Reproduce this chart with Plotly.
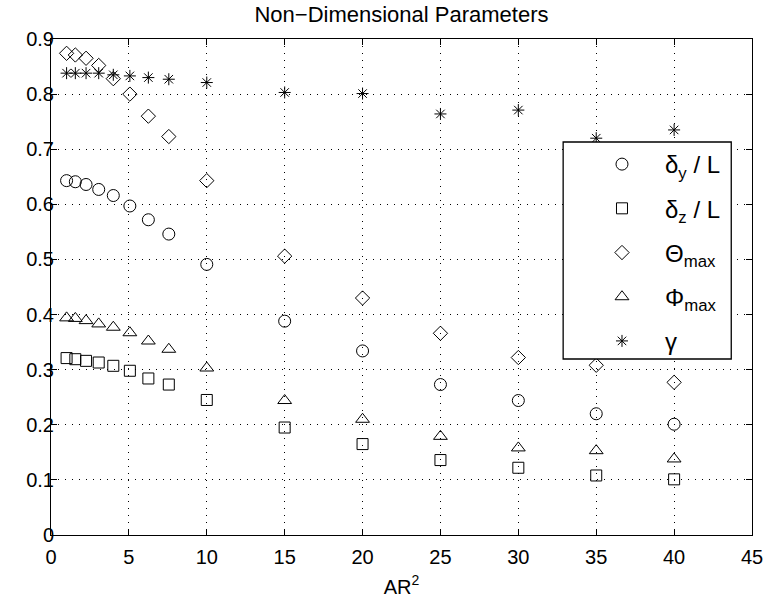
import plotly.graph_objects as go

# AR^2 sample points
ar2 = [1, 1.5625, 2.25, 3.0625, 4, 5.0625, 6.25, 7.5625, 10, 15, 20, 25, 30, 35, 40]

delta_y = [0.643, 0.641, 0.636, 0.627, 0.616, 0.597, 0.572, 0.546, 0.491, 0.388, 0.334, 0.273, 0.244, 0.220, 0.201]
delta_z = [0.321, 0.319, 0.316, 0.313, 0.307, 0.298, 0.284, 0.273, 0.245, 0.195, 0.165, 0.136, 0.122, 0.108, 0.101]
theta_max = [0.874, 0.871, 0.865, 0.852, 0.828, 0.800, 0.760, 0.723, 0.643, 0.506, 0.430, 0.366, 0.322, 0.308, 0.277]
phi_max = [0.394, 0.393, 0.389, 0.383, 0.377, 0.367, 0.352, 0.337, 0.303, 0.244, 0.210, 0.179, 0.158, 0.153, 0.138]
gamma = [0.838, 0.838, 0.838, 0.838, 0.835, 0.833, 0.830, 0.827, 0.821, 0.803, 0.801, 0.764, 0.771, 0.720, 0.735]

series = [
    ("δ<sub>y</sub> / L", delta_y, "circle-open", 12),
    ("δ<sub>z</sub> / L", delta_z, "square-open", 11),
    ("Θ<sub>max</sub>", theta_max, "diamond-open", 11),
    ("Φ<sub>max</sub>", phi_max, "triangle-up-open", 12),
    ("γ", gamma, "asterisk-open", 10),
]

FONT = "Liberation Sans, Arial, Helvetica, sans-serif"

fig = go.Figure()
for i, (name, vals, sym, sz) in enumerate(series):
    fig.add_trace(go.Scatter(
        x=ar2, y=vals, mode="markers", name=name,
        legendgroup=f"g{i}",
        marker=dict(symbol=sym, size=sz, color="black", line=dict(color="black", width=1)),
    ))

axis_common = dict(
    showline=True, linecolor="black", linewidth=1, mirror="ticks",
    ticks="inside", ticklen=6, tickcolor="black", tickwidth=1,
    showgrid=True, gridcolor="black", gridwidth=1, griddash="1px,6px",
    zeroline=False,
    tickfont=dict(family=FONT, size=20, color="black"),
)

fig.update_xaxes(range=[0, 45], dtick=5, tick0=0, ticklabelstandoff=4,
                 title=dict(text="AR<sup>2</sup>", font=dict(family=FONT, size=20, color="black"), standoff=12),
                 **axis_common)
fig.update_yaxes(range=[0, 0.9], dtick=0.1, tick0=0, ticklabelstandoff=-8, **axis_common)

# Legend frame (opaque, covers the data beneath it)
fig.add_shape(type="rect", xref="paper", yref="paper",
              x0=0.7306, x1=0.9704, y0=0.3548, y1=0.7923,
              line=dict(color="black", width=1.3), fillcolor="white", layer="above")

fig.update_layout(
    width=775, height=608,
    margin=dict(l=51, r=15, t=39, b=73),
    paper_bgcolor="white", plot_bgcolor="white",
    font=dict(family=FONT, color="black"),
    title=dict(text="Non−Dimensional Parameters", x=0.5, xref="paper", xanchor="center",
               y=1 - 14 / 608, yref="container", yanchor="middle",
               font=dict(family=FONT, size=22, color="black")),
    showlegend=True,
    legend=dict(x=0.7532, y=0.7923, xanchor="left", yanchor="top",
                bgcolor="rgba(0,0,0,0)", borderwidth=0,
                font=dict(family=FONT, size=24, color="black"),
                itemwidth=76, tracegroupgap=10, itemclick=False),
)

fig.write_html("out.html")
